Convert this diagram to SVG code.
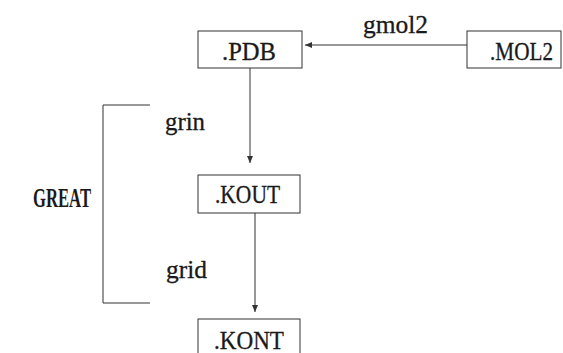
<svg xmlns="http://www.w3.org/2000/svg" width="563" height="353" viewBox="0 0 563 353">
<style>
.box{fill:#fff;stroke:#333;stroke-width:1}
.ln{fill:none;stroke:#333;stroke-width:1}
.t{font-family:"Liberation Serif","Times New Roman",serif;font-size:25px;fill:#1a1a1a;stroke:#1a1a1a;stroke-width:0.3}
.b{font-size:28px;font-weight:bold;stroke-width:0}
</style>
<defs>
<marker id="ah" markerWidth="8" markerHeight="8" refX="7" refY="4" orient="auto" markerUnits="userSpaceOnUse">
<path d="M0,1 L7,4 L0,7 Z" fill="#333"/>
</marker>
</defs>
<rect width="563" height="353" fill="#fff"/>
<g id="connectors">
<line class="ln" x1="467" y1="45" x2="305" y2="45" marker-end="url(#ah)"/>
<line class="ln" x1="250" y1="68" x2="250" y2="163" marker-end="url(#ah)"/>
<line class="ln" x1="255" y1="213" x2="255" y2="312" marker-end="url(#ah)"/>
<text class="t" x="363" y="33" textLength="65" lengthAdjust="spacingAndGlyphs">gmol2</text>
<text class="t" x="165" y="130" textLength="40" lengthAdjust="spacingAndGlyphs">grin</text>
<text class="t" x="166" y="278" textLength="41" lengthAdjust="spacingAndGlyphs">grid</text>
</g>
<g id="great">
<path class="ln" d="M150,105 H103 V303 H150"/>
<text class="t b" x="33" y="207" textLength="58" lengthAdjust="spacingAndGlyphs">GREAT</text>
</g>
<g id="pdb">
<rect class="box" x="198" y="31" width="104" height="37"/>
<text class="t" x="222" y="60" textLength="54" lengthAdjust="spacingAndGlyphs">.PDB</text>
</g>
<g id="mol2">
<rect class="box" x="467" y="31" width="94" height="37"/>
<text class="t" x="490" y="60" textLength="63" lengthAdjust="spacingAndGlyphs">.MOL2</text>
</g>
<g id="kout">
<rect class="box" x="198" y="175" width="102" height="38"/>
<text class="t" x="215" y="203" textLength="65" lengthAdjust="spacingAndGlyphs">.KOUT</text>
</g>
<g id="kont">
<rect class="box" x="198" y="319" width="102" height="40"/>
<text class="t" x="214" y="349" textLength="70" lengthAdjust="spacingAndGlyphs">.KONT</text>
</g>
</svg>
